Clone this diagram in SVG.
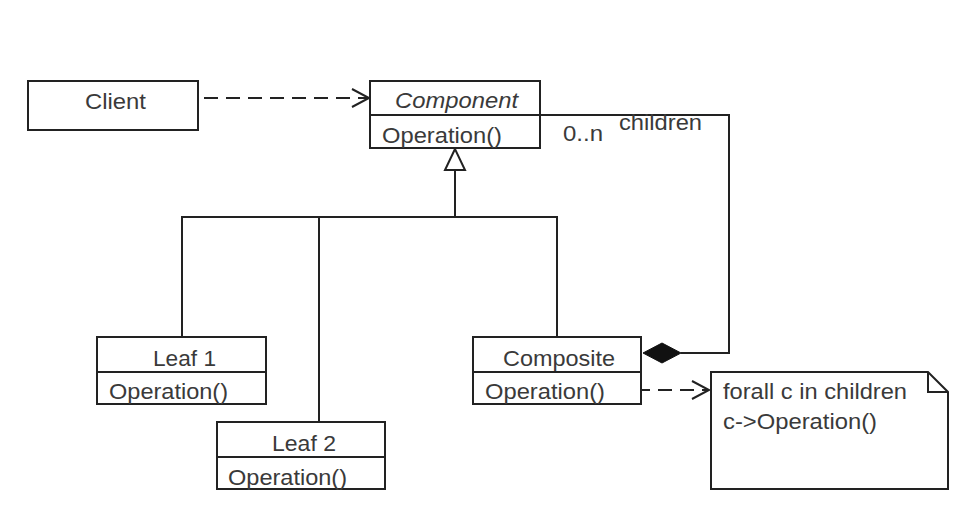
<svg xmlns="http://www.w3.org/2000/svg" width="969" height="505" viewBox="0 0 969 505">
<style>
.box{fill:#fff;stroke:#222;stroke-width:2}
.ln{fill:none;stroke:#222;stroke-width:2}
.dash{fill:none;stroke:#222;stroke-width:2;stroke-dasharray:14,8}
text{font-family:"Liberation Sans",Arial,sans-serif;font-size:22px;fill:#3a3a3a}
</style>
<defs>
<marker id="open" markerWidth="22" markerHeight="22" refX="19" refY="11" orient="auto" markerUnits="userSpaceOnUse">
<path d="M2,2 L19,11 L2,20" fill="none" stroke="#222" stroke-width="2"/>
</marker>
</defs>
<rect width="969" height="505" fill="#fff"/>
<g id="connectors">
<line class="dash" x1="204" y1="98" x2="369" y2="98" marker-end="url(#open)"/>
<polyline class="ln" points="540,115 729,115 729,353 681,353"/>
<polygon points="643,353 662,343 681,353 662,363" fill="#111" stroke="#111" stroke-width="1"/>
<polyline class="ln" points="455,170 455,217"/>
<polyline class="ln" points="182,337 182,217 557,217 557,337"/>
<line class="ln" x1="319" y1="217" x2="319" y2="422"/>
<polygon points="455,149 445,170 465,170" fill="#fff" stroke="#222" stroke-width="2"/>
<line class="dash" x1="636" y1="390" x2="709" y2="390" marker-end="url(#open)"/>
<text x="563" y="141" textLength="40" lengthAdjust="spacingAndGlyphs">0..n</text>
<text x="619" y="130" textLength="83" lengthAdjust="spacingAndGlyphs">children</text>
</g>
<g id="client">
<rect class="box" x="28" y="81" width="170" height="49"/>
<text x="85" y="109" textLength="61" lengthAdjust="spacingAndGlyphs">Client</text>
</g>
<g id="component">
<rect class="box" x="370" y="81" width="170" height="67"/>
<line class="ln" x1="370" y1="115" x2="540" y2="115"/>
<text x="395" y="108" font-style="italic" textLength="123" lengthAdjust="spacingAndGlyphs">Component</text>
<text x="382" y="143" textLength="120" lengthAdjust="spacingAndGlyphs">Operation()</text>
</g>
<g id="leaf1">
<rect class="box" x="97" y="337" width="169" height="67"/>
<line class="ln" x1="97" y1="372" x2="266" y2="372"/>
<text x="153" y="366" textLength="63" lengthAdjust="spacingAndGlyphs">Leaf 1</text>
<text x="109" y="399" textLength="119" lengthAdjust="spacingAndGlyphs">Operation()</text>
</g>
<g id="leaf2">
<rect class="box" x="217" y="422" width="168" height="67"/>
<line class="ln" x1="217" y1="457" x2="385" y2="457"/>
<text x="272" y="451" textLength="64" lengthAdjust="spacingAndGlyphs">Leaf 2</text>
<text x="228" y="485" textLength="119" lengthAdjust="spacingAndGlyphs">Operation()</text>
</g>
<g id="composite">
<rect class="box" x="473" y="337" width="168" height="67"/>
<line class="ln" x1="473" y1="372" x2="641" y2="372"/>
<text x="503" y="366" textLength="112" lengthAdjust="spacingAndGlyphs">Composite</text>
<text x="485" y="399" textLength="120" lengthAdjust="spacingAndGlyphs">Operation()</text>
</g>
<g id="note">
<path class="box" d="M711,372 L928,372 L948,392 L948,489 L711,489 Z"/>
<path class="ln" d="M928,372 L928,392 L948,392"/>
<text x="723" y="399" textLength="184" lengthAdjust="spacingAndGlyphs">forall c in children</text>
<text x="723" y="429" textLength="154" lengthAdjust="spacingAndGlyphs">c-&gt;Operation()</text>
</g>
</svg>
